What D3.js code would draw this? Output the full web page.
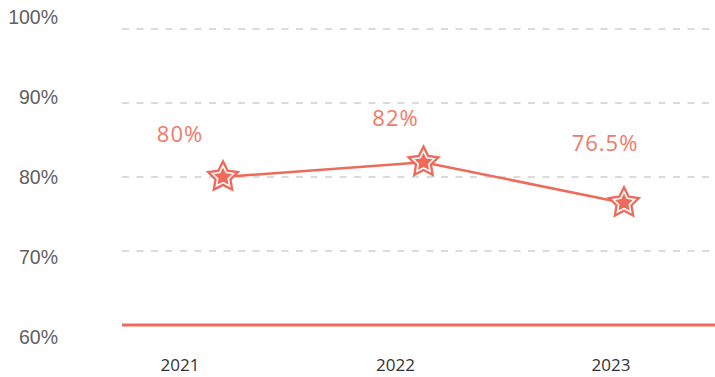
<!DOCTYPE html>
<html>
<head>
<meta charset="utf-8">
<script src="https://cdn.jsdelivr.net/npm/d3@7/dist/d3.min.js"></script>
<style>
  html, body { margin: 0; padding: 0; background: #fff; }
  svg { display: block; }
</style>
</head>
<body>
<svg id="chart" width="715" height="377"></svg>
<script>
// Yearly rate, in percent
const years = ["2021", "2022", "2023"];
const rates = [80, 82, 76.5];
const yTicks = [60, 70, 80, 90, 100];

const W = 715, H = 377;
const RED = "#ee6a5a";
const svg = d3.select("#chart");

// plotting scales
const y = d3.scaleLinear().domain([60, 100]).range([325, 29]);
const x = d3.scalePoint().domain(years).range([223, 624]);
// tick-label placement scales
const yLab = d3.scaleLinear().domain([60, 100]).range([337, 17]);
const xLab = d3.scalePoint().domain(years).range([180, 611]);

const left = 122, right = W;

// dashed grid lines
svg.append("g")
  .selectAll("line")
  .data(yTicks.filter(t => t > 60))
  .join("line")
  .attr("x1", left).attr("x2", right)
  .attr("y1", d => y(d)).attr("y2", d => y(d))
  .attr("stroke", "#cfcfcf")
  .attr("stroke-width", 1.5)
  .attr("stroke-dasharray", "7,7.5");

// baseline
svg.append("line")
  .attr("x1", left).attr("x2", right)
  .attr("y1", y(60)).attr("y2", y(60))
  .attr("stroke", RED)
  .attr("stroke-width", 3);

// y tick labels
svg.append("g")
  .selectAll("text")
  .data(yTicks)
  .join("text")
  .attr("x", 58)
  .attr("y", d => yLab(d))
  .attr("text-anchor", "end")
  .attr("dominant-baseline", "central")
  .attr("font-family", "'Liberation Sans', Arial, sans-serif")
  .attr("font-size", 19.5)
  .attr("fill", "#606060")
  .text(d => d + "%");

// x tick labels
svg.append("g")
  .selectAll("text")
  .data(years)
  .join("text")
  .attr("x", d => xLab(d))
  .attr("y", 364)
  .attr("text-anchor", "middle")
  .attr("dominant-baseline", "central")
  .attr("font-family", "'Open Sans', sans-serif")
  .attr("font-size", 17)
  .attr("fill", "#333")
  .text(d => d);

// line
const pts = years.map((yr, i) => [x(yr), y(rates[i])]);
svg.append("path")
  .attr("d", d3.line()(pts))
  .attr("fill", "none")
  .attr("stroke", RED)
  .attr("stroke-width", 2.5);

// five-pointed star path centred on the origin
function star(R, r) {
  const p = [];
  for (let k = 0; k < 10; k++) {
    const a = -Math.PI / 2 + k * Math.PI / 5;
    const rad = k % 2 ? r : R;
    p.push([rad * Math.cos(a), rad * Math.sin(a)]);
  }
  return "M" + p.map(q => q[0].toFixed(2) + "," + q[1].toFixed(2)).join("L") + "Z";
}

const mk = svg.append("g")
  .selectAll("g")
  .data(pts)
  .join("g")
  .attr("transform", d => `translate(${d[0]},${d[1]})`);
mk.append("path")
  .attr("d", star(16, 8))
  .attr("fill", RED)
  .attr("stroke", RED)
  .attr("stroke-width", 2)
  .attr("stroke-linejoin", "miter");
mk.append("path")
  .attr("d", star(11.2, 5.6))
  .attr("fill", RED)
  .attr("stroke", "#fff")
  .attr("stroke-width", 1.6);

// value labels
const labelLift = [44.5, 45, 61];
const labelShift = [0, 0, -6];
svg.append("g")
  .selectAll("text")
  .data(rates)
  .join("text")
  .attr("x", (d, i) => xLab(years[i]) + labelShift[i])
  .attr("y", (d, i) => y(d) - labelLift[i])
  .attr("text-anchor", "middle")
  .attr("dominant-baseline", "central")
  .attr("font-family", "'Open Sans', sans-serif")
  .attr("font-size", 22)
  .attr("letter-spacing", 1)
  .attr("fill", "#f07a6a")
  .text(d => d + "%");
</script>
</body>
</html>
